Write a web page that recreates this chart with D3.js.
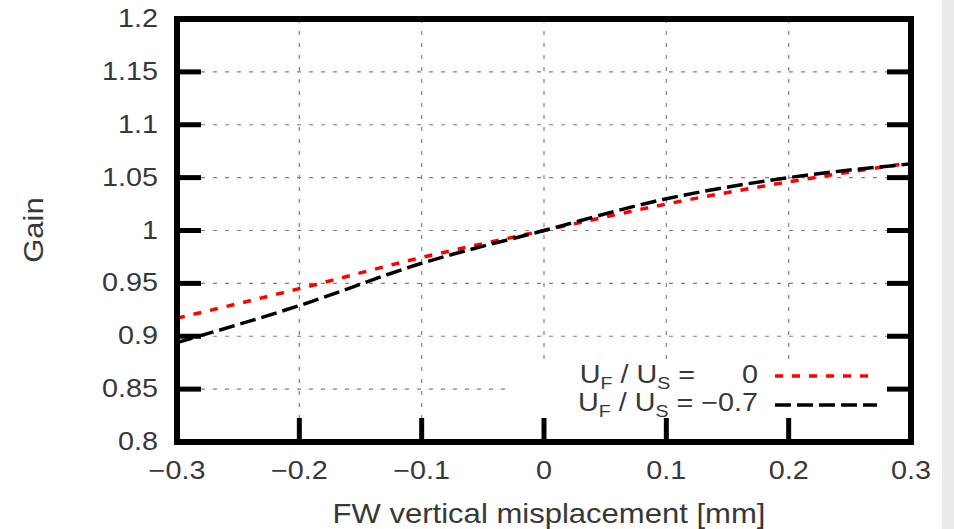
<!DOCTYPE html>
<html>
<head>
<meta charset="utf-8">
<script src="https://cdn.jsdelivr.net/npm/d3@7"></script>
<style>
  html, body { margin: 0; padding: 0; background: #fff; }
  svg { display: block; }
  text { font-family: "Liberation Sans", Arial, sans-serif; fill: #383838; }
</style>
</head>
<body>
<svg id="chart" width="954" height="529"></svg>
<script>
// Gain versus front-wire vertical misplacement, for two field ratios
const xValues   = [-0.3, -0.2, -0.1, 0.0, 0.1, 0.2, 0.3];
const gainRatio0   = [0.917, 0.945, 0.9745, 1.0, 1.025, 1.046, 1.064];
const gainRatioM07 = [0.894, 0.929, 0.969, 1.0, 1.030, 1.050, 1.063];

const xTicks = [-0.3, -0.2, -0.1, 0, 0.1, 0.2, 0.3];
const yTicks = [0.8, 0.85, 0.9, 0.95, 1, 1.05, 1.1, 1.15, 1.2];
const xTickLabels = ["\u22120.3", "\u22120.2", "\u22120.1", "0", "0.1", "0.2", "0.3"];
const yTickLabels = ["0.8", "0.85", "0.9", "0.95", "1", "1.05", "1.1", "1.15", "1.2"];

const svg = d3.select("#chart");
const W = 954, H = 529;
const plotL = 177, plotR = 911, plotT = 19, plotB = 442;
const SX = 1.15; // wide glyphs of the terminal font

// light strip at the right edge of the page
svg.append("rect").attr("x", 942).attr("y", 0).attr("width", W - 942).attr("height", H).attr("fill", "#ebebeb");

const x = d3.scaleLinear().domain([-0.3, 0.3]).range([plotL, plotR]);
const y = d3.scaleLinear().domain([0.8, 1.2]).range([plotB, plotT]);

function label(parent, px, py, size, anchor, rot) {
  const g = parent.append("g")
    .attr("transform", `translate(${px},${py})` + (rot ? ` rotate(${rot})` : "") + ` scale(${SX},1)`);
  return g.append("text").attr("text-anchor", anchor).attr("font-size", size);
}

// dotted grid
const grid = svg.append("g").attr("stroke", "#808080").attr("stroke-width", 1.2).attr("stroke-dasharray", "4,8");
grid.selectAll(".gx").data(xTicks.slice(1, -1)).join("line")
  .attr("x1", d => x(d)).attr("x2", d => x(d)).attr("y1", plotT).attr("y2", plotB);
grid.selectAll(".gy").data(yTicks.slice(1, -1)).join("line")
  .attr("x1", plotL).attr("x2", plotR).attr("y1", d => y(d)).attr("y2", d => y(d));

// white legend panel hides the grid underneath
svg.append("rect").attr("x", 512).attr("y", 362).attr("width", 392).attr("height", 58).attr("fill", "#fff");

// curves
const line = (vals) => d3.line().x((d, i) => x(xValues[i])).y(d => y(d)).curve(d3.curveMonotoneX)(vals);
svg.append("path").attr("d", line(gainRatio0)).attr("fill", "none")
  .attr("stroke", "#ff0000").attr("stroke-width", 3.5).attr("stroke-dasharray", "8,9");
svg.append("path").attr("d", line(gainRatioM07)).attr("fill", "none")
  .attr("stroke", "#000").attr("stroke-width", 3.5).attr("stroke-dasharray", "16,6");

// major ticks: left, right and bottom
const tl = 24;
const ticks = svg.append("g").attr("stroke", "#000").attr("stroke-width", 5);
ticks.selectAll(".tl").data(yTicks.slice(1, -1)).join("line")
  .attr("x1", plotL).attr("x2", plotL + tl).attr("y1", d => y(d)).attr("y2", d => y(d));
ticks.selectAll(".tr").data(yTicks.slice(1, -1)).join("line")
  .attr("x1", plotR).attr("x2", plotR - tl).attr("y1", d => y(d)).attr("y2", d => y(d));
ticks.selectAll(".tb").data(xTicks.slice(1, -1)).join("line")
  .attr("x1", d => x(d)).attr("x2", d => x(d)).attr("y1", plotB).attr("y2", plotB - tl);

// frame
svg.append("rect").attr("x", plotL).attr("y", plotT).attr("width", plotR - plotL).attr("height", plotB - plotT)
  .attr("fill", "none").attr("stroke", "#000").attr("stroke-width", 6);

// tick labels
const fs = 25;
const tickG = svg.append("g");
yTicks.forEach((d, i) => label(tickG, 158, y(d) + 8, fs, "end").text(yTickLabels[i]));
xTicks.forEach((d, i) => label(tickG, x(d), 479, fs, "middle").text(xTickLabels[i]));

// axis titles
label(svg, 549, 523, 27, "middle").text("FW vertical misplacement [mm]");
label(svg, 43, 230, 27, "middle", -90).text("Gain");

// legend
function ratioLabel(px, py) {
  const t = label(svg, px, py, fs, "end");
  t.append("tspan").text("U");
  t.append("tspan").attr("font-size", 17).attr("dy", 6).text("F");
  t.append("tspan").attr("dy", -6).text(" / U");
  t.append("tspan").attr("font-size", 17).attr("dy", 6).text("S");
  return t;
}
ratioLabel(695, 383).append("tspan").attr("dy", -6).text(" =");
label(svg, 758, 383, fs, "end").text("0");
ratioLabel(758, 411).append("tspan").attr("dy", -6).text(" = \u22120.7");

svg.append("line").attr("x1", 775).attr("x2", 877).attr("y1", 376).attr("y2", 376)
  .attr("stroke", "#ff0000").attr("stroke-width", 3.5).attr("stroke-dasharray", "8,9");
svg.append("line").attr("x1", 775).attr("x2", 877).attr("y1", 405).attr("y2", 405)
  .attr("stroke", "#000").attr("stroke-width", 3.5).attr("stroke-dasharray", "16,6");
</script>
</body>
</html>
